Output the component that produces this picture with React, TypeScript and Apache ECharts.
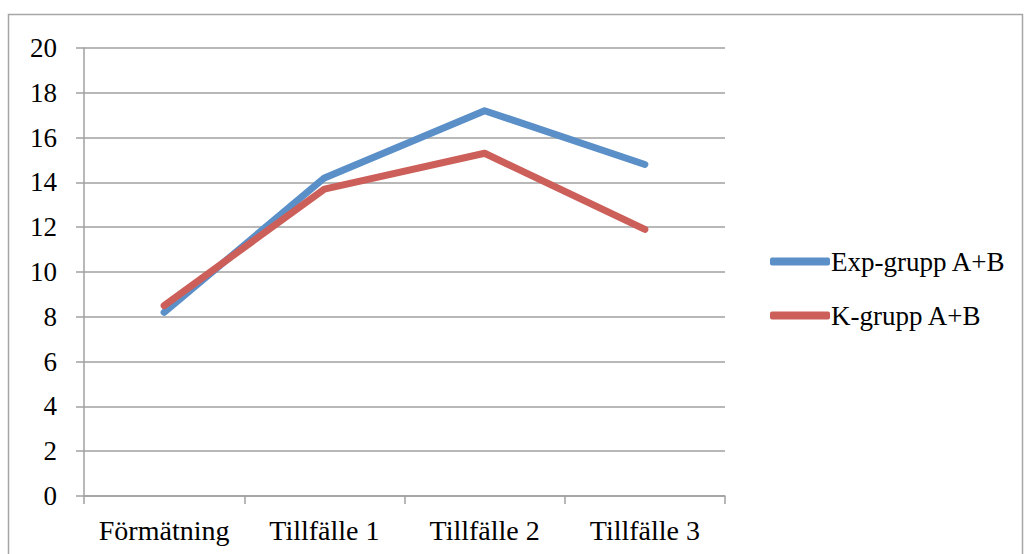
import React, { useEffect, useRef } from "react";
import * as echarts from "echarts";

const categories = ["Förmätning", "Tillfälle 1", "Tillfälle 2", "Tillfälle 3"];
const expValues = [8.2, 14.2, 17.2, 14.8];
const kValues = [8.5, 13.7, 15.3, 11.9];
const seriesNames = ["Exp-grupp A+B", "K-grupp A+B"];

const FONT = "Liberation Serif";

export default function App() {
  const ref = useRef<HTMLDivElement>(null);
  useEffect(() => {
    if (!ref.current) return;
    const chart = echarts.init(ref.current, null, { renderer: "svg" });
    chart.setOption({
      animation: false,
      backgroundColor: "#ffffff",
      textStyle: { fontFamily: FONT },
      graphic: [
        {
          type: "rect",
          shape: { x: 8.5, y: 14.5, width: 1014, height: 560 },
          style: { fill: "none", stroke: "#a6a6a6", lineWidth: 1.5 },
          silent: true,
        },
      ],
      grid: { left: 84, top: 48, right: 304, bottom: 58, containLabel: false },
      legend: {
        orient: "vertical",
        left: 770,
        top: 248,
        padding: 0,
        itemWidth: 60,
        itemHeight: 8,
        itemGap: 27,
        icon: "roundRect",
        textStyle: { fontFamily: FONT, fontSize: 27, color: "#000", padding: [0, 0, 0, -4] },
        data: seriesNames,
      },
      xAxis: {
        type: "category",
        data: categories,
        boundaryGap: true,
        axisLine: { lineStyle: { color: "#a0a0a0", width: 1.5 } },
        axisTick: { show: true, interval: 0, length: 8, lineStyle: { color: "#a0a0a0", width: 1.5 } },
        axisLabel: { interval: 0, fontFamily: FONT, fontSize: 28, color: "#000", margin: 20 },
      },
      yAxis: {
        type: "value",
        min: 0,
        max: 20,
        interval: 2,
        axisLine: { show: true, lineStyle: { color: "#a0a0a0", width: 1.5 } },
        axisTick: { show: true, length: 8, lineStyle: { color: "#a0a0a0", width: 1.5 } },
        splitLine: { lineStyle: { color: "#a0a0a0", width: 1.5 } },
        axisLabel: { fontFamily: FONT, fontSize: 27, color: "#000", margin: 27 },
      },
      series: [
        {
          name: seriesNames[0],
          type: "line",
          data: expValues,
          symbol: "none",
          color: "#5a8fc8",
          lineStyle: { width: 7, cap: "round", join: "round", color: "#5a8fc8" },
        },
        {
          name: seriesNames[1],
          type: "line",
          data: kValues,
          symbol: "none",
          color: "#cc5f59",
          lineStyle: { width: 7, cap: "round", join: "round", color: "#cc5f59" },
        },
      ],
    });
    return () => chart.dispose();
  }, []);
  return (
    <div
      ref={ref}
      style={{ position: "absolute", left: 0, top: 0, width: 1029, height: 554 }}
    />
  );
}
